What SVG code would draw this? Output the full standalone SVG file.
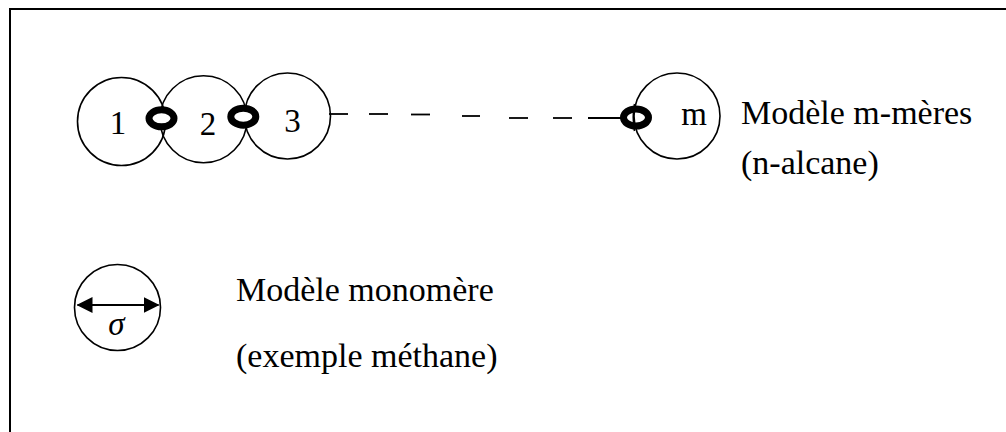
<svg xmlns="http://www.w3.org/2000/svg" width="1006" height="432" viewBox="0 0 1006 432">
<style>
.c{fill:none;stroke:#000;stroke-width:1.6}
.ring{fill:#fff;stroke:#000;stroke-width:7}
.t{font-family:'Liberation Serif','Times New Roman','DejaVu Serif',serif;font-size:34px;fill:#000}
.n{font-size:33px}
.d{stroke:#000;stroke-width:1.8}
</style>
<defs>
<marker id="ah" viewBox="0 0 16 16" refX="15" refY="8" markerWidth="16" markerHeight="16" markerUnits="userSpaceOnUse" orient="auto-start-reverse">
<path d="M0,0 L16,8 L0,16 Z" fill="#000"/>
</marker>
</defs>
<rect x="10" y="9" width="1100" height="500" fill="none" stroke="#000" stroke-width="2"/>
<g id="connectors">
<line class="d" x1="329" y1="114" x2="348" y2="114"/>
<line class="d" x1="369" y1="114" x2="388" y2="114"/>
<line class="d" x1="411" y1="114.5" x2="430" y2="114.5"/>
<line class="d" x1="462" y1="116" x2="480" y2="116"/>
<line class="d" x1="509" y1="118" x2="528" y2="118"/>
<line class="d" x1="553" y1="118" x2="572" y2="118"/>
<line class="d" x1="588" y1="118" x2="622" y2="118"/>
</g>
<g id="bead1"><circle class="c" cx="121.5" cy="121.5" r="44"/><text class="t n" x="118" y="134" text-anchor="middle">1</text></g>
<g id="bead2"><circle class="c" cx="203.5" cy="119.2" r="43.5"/><text class="t n" x="208" y="135" text-anchor="middle">2</text></g>
<g id="bead3"><circle class="c" cx="287.5" cy="116" r="43"/><text class="t n" x="292.5" y="132" text-anchor="middle">3</text></g>
<g id="beadm"><circle class="c" cx="677" cy="116" r="43"/><text class="t n" x="694" y="125" text-anchor="middle">m</text></g>
<g id="bond1"><ellipse class="ring" cx="161.5" cy="118.3" rx="12.5" ry="8.5"/></g>
<g id="bond2"><ellipse class="ring" cx="243.3" cy="116.7" rx="12.5" ry="8.5"/></g>
<g id="bondm"><ellipse class="ring" style="fill:none" cx="636" cy="117.5" rx="12.5" ry="8.5"/><path d="M634.5,104 Q632,117.5 634.5,131" fill="none" stroke="#000" stroke-width="1.6"/></g>
<g id="label-mmer"><text class="t" x="741" y="124">Modèle m-mères</text><text class="t" x="741" y="174">(n-alcane)</text></g>
<g id="monomer"><circle class="c" cx="117.5" cy="307.5" r="43"/><line x1="77.5" y1="305" x2="158.5" y2="305" stroke="#000" stroke-width="2.2" marker-start="url(#ah)" marker-end="url(#ah)"/><text class="t n" x="116.5" y="335" text-anchor="middle" font-style="italic">σ</text></g>
<g id="label-mono"><text class="t" x="236" y="301">Modèle monomère</text><text class="t" x="236" y="367">(exemple méthane)</text></g>
</svg>
